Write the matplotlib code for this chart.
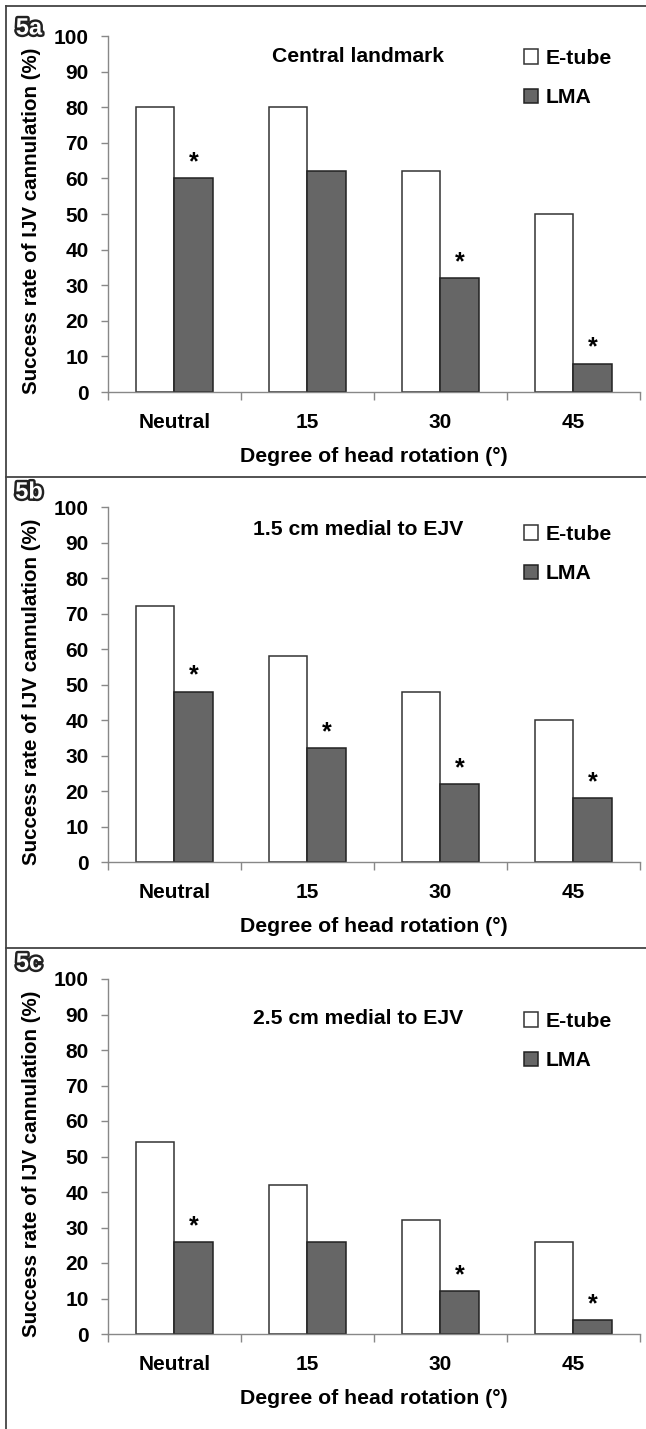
import numpy as np
import matplotlib
matplotlib.use('Agg')
import matplotlib.pyplot as plt
import matplotlib.patheffects as pe
from matplotlib.lines import Line2D

plt.rcParams['font.family'] = ['Liberation Sans', 'DejaVu Sans']
plt.rcParams['font.weight'] = 'bold'

categories = ['Neutral', '15', '30', '45']
series_names = ['E-tube', 'LMA']

etube_a = [80, 80, 62, 50]
lma_a = [60, 62, 32, 8]
stars_a = [1, 0, 1, 1]

etube_b = [72, 58, 48, 40]
lma_b = [48, 32, 22, 18]
stars_b = [1, 1, 1, 1]

etube_c = [54, 42, 32, 26]
lma_c = [26, 26, 12, 4]
stars_c = [1, 0, 1, 1]

titles = ['Central landmark', '1.5 cm medial to EJV', '2.5 cm medial to EJV']
panel_tags = ['5a', '5b', '5c']
xlabel = 'Degree of head rotation (\u00b0)'
ylabel = 'Success rate of IJV cannulation (%)'

W, H = 646, 1429
fig = plt.figure(figsize=(W / 100, H / 100), dpi=100)


def draw_panel(top, bottom, etube, lma, stars, title, tag, title_y, leg_y, tag_y):
    ax = fig.add_axes([108 / W, 1 - bottom / H, 532 / W, (bottom - top) / H])
    x = np.arange(len(categories))
    w = 0.29
    ax.bar(x - w / 2, etube, w, color='white', edgecolor='#333333', linewidth=1.1, label=series_names[0])
    ax.bar(x + w / 2, lma, w, color='#666666', edgecolor='#222222', linewidth=1.1, label=series_names[1])
    for i in range(len(categories)):
        if stars[i]:
            ax.text(x[i] + w / 2, lma[i] + 2.5, '*', ha='center', va='baseline', fontsize=18, fontweight='bold')
    ax.set_xlim(-0.5, len(categories) - 0.5)
    ax.set_ylim(0, 100)
    ax.set_yticks(range(0, 101, 10))
    ax.set_xticks(x)
    ax.set_xticklabels(categories)
    ax.set_xticks(np.arange(-0.5, len(categories), 1), minor=True)
    ax.tick_params(axis='x', which='major', length=0, pad=15, labelsize=15)
    ax.tick_params(axis='x', which='minor', length=6, color='#888888', width=1)
    ax.tick_params(axis='y', length=5, color='#888888', width=1, pad=9, labelsize=15)
    for s in ['top', 'right']:
        ax.spines[s].set_visible(False)
    for s in ['left', 'bottom']:
        ax.spines[s].set_color('#888888')
        ax.spines[s].set_linewidth(1)
    ax.set_xlabel(xlabel, fontsize=15.3, fontweight='bold')
    ax.xaxis.set_label_coords(0.5, -55 / (bottom - top))
    ax.set_ylabel(ylabel, fontsize=14.8, fontweight='bold')
    ax.yaxis.set_label_coords(-67 / 532, 0.48)
    fig.text(358 / W, 1 - title_y / H, title, ha='center', va='center', fontsize=15.2, fontweight='bold')
    ax.legend(loc='upper left', bbox_to_anchor=(524 / W, 1 - (leg_y - 8) / H), bbox_transform=fig.transFigure,
              frameon=False, fontsize=15.3, borderpad=0, handlelength=0.65, handleheight=0.65,
              handletextpad=0.35, labelspacing=0.95, borderaxespad=0)
    fig.text(29 / W, 1 - tag_y / H, tag, ha='center', va='center', fontsize=17, fontweight='bold',
             color='white', path_effects=[pe.Stroke(linewidth=3.5, foreground='#222222'), pe.Normal()])
    return ax


draw_panel(36, 392, etube_a, lma_a, stars_a, titles[0], panel_tags[0], 57, 57, 28)
draw_panel(507, 862, etube_b, lma_b, stars_b, titles[1], panel_tags[1], 530, 533, 492)
draw_panel(979, 1334, etube_c, lma_c, stars_c, titles[2], panel_tags[2], 1018, 1020, 963)

# frame lines around the panels
line_kw = dict(transform=fig.transFigure, color='#444444', linewidth=1.3)
fig.add_artist(Line2D([6 / W, 6 / W], [0, 1 - 6 / H], **line_kw))
for yy in [6, 477, 948]:
    fig.add_artist(Line2D([6 / W, 1], [1 - yy / H, 1 - yy / H], **line_kw))

fig.savefig('out.png', dpi=100)
